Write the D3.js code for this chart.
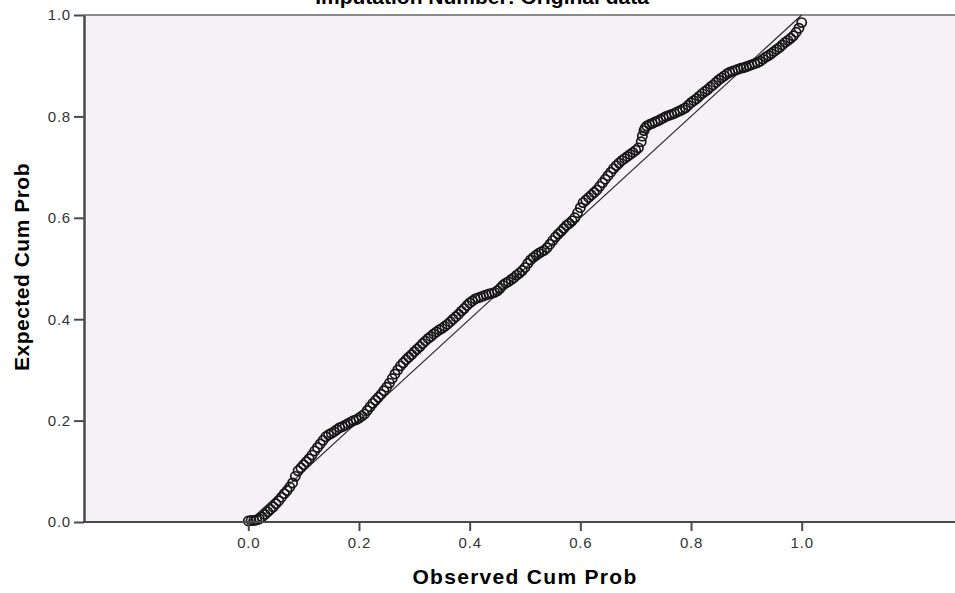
<!DOCTYPE html>
<html>
<head>
<meta charset="utf-8">
<script src="https://cdn.jsdelivr.net/npm/d3@7"></script>
<style>
  body { margin: 0; background: #fff; }
  svg { display: block; font-family: "Liberation Sans", Arial, sans-serif; }
</style>
</head>
<body>
<div id="chart"></div>
<script>
const title = 'Imputation Number: Original data'
const xTitle = 'Observed Cum Prob'
const yTitle = 'Expected Cum Prob'
const xTicks = [0, 0.2, 0.4, 0.6, 0.8, 1.0]
const yTicks = [0, 0.2, 0.4, 0.6, 0.8, 1.0]

const observedCumProb = [
  0.000, 0.005, 0.010, 0.015, 0.020, 0.025, 0.030, 0.035, 0.040, 0.045,
  0.050, 0.055, 0.060, 0.065, 0.070, 0.075, 0.080, 0.085, 0.090, 0.095,
  0.100, 0.105, 0.110, 0.115, 0.120, 0.125, 0.130, 0.135, 0.140, 0.145,
  0.150, 0.155, 0.160, 0.165, 0.170, 0.175, 0.180, 0.185, 0.190, 0.195,
  0.200, 0.205, 0.210, 0.215, 0.220, 0.225, 0.230, 0.235, 0.240, 0.245,
  0.250, 0.255, 0.260, 0.265, 0.270, 0.275, 0.280, 0.285, 0.290, 0.295,
  0.300, 0.305, 0.310, 0.315, 0.320, 0.325, 0.330, 0.335, 0.340, 0.345,
  0.350, 0.355, 0.360, 0.365, 0.370, 0.375, 0.380, 0.385, 0.390, 0.395,
  0.400, 0.405, 0.410, 0.415, 0.420, 0.425, 0.430, 0.435, 0.440, 0.445,
  0.450, 0.455, 0.460, 0.465, 0.470, 0.475, 0.480, 0.485, 0.490, 0.495,
  0.500, 0.505, 0.510, 0.515, 0.520, 0.525, 0.530, 0.535, 0.540, 0.545,
  0.550, 0.555, 0.560, 0.565, 0.570, 0.575, 0.580, 0.585, 0.590, 0.595,
  0.600, 0.605, 0.610, 0.615, 0.620, 0.625, 0.630, 0.635, 0.640, 0.645,
  0.650, 0.655, 0.660, 0.665, 0.670, 0.675, 0.680, 0.685, 0.690, 0.695,
  0.700, 0.705, 0.710, 0.715, 0.720, 0.725, 0.730, 0.735, 0.740, 0.745,
  0.750, 0.755, 0.760, 0.765, 0.770, 0.775, 0.780, 0.785, 0.790, 0.795,
  0.800, 0.805, 0.810, 0.815, 0.820, 0.825, 0.830, 0.835, 0.840, 0.845,
  0.850, 0.855, 0.860, 0.865, 0.870, 0.875, 0.880, 0.885, 0.890, 0.895,
  0.900, 0.905, 0.910, 0.915, 0.920, 0.925, 0.930, 0.935, 0.940, 0.945,
  0.950, 0.955, 0.960, 0.965, 0.970, 0.975, 0.980, 0.985, 0.990, 0.995,
  1.000, 0.712, 0.717
]

const expectedCumProb = [
  0.002, 0.003, 0.003, 0.004, 0.006, 0.010, 0.015, 0.020, 0.025, 0.030,
  0.036, 0.042, 0.049, 0.056, 0.062, 0.069, 0.077, 0.090, 0.101, 0.107,
  0.113, 0.119, 0.125, 0.132, 0.140, 0.147, 0.154, 0.161, 0.168, 0.172,
  0.175, 0.178, 0.182, 0.186, 0.188, 0.191, 0.194, 0.197, 0.200, 0.202,
  0.205, 0.209, 0.213, 0.220, 0.227, 0.234, 0.240, 0.246, 0.252, 0.259,
  0.266, 0.274, 0.283, 0.292, 0.300, 0.308, 0.314, 0.320, 0.325, 0.330,
  0.336, 0.341, 0.346, 0.352, 0.357, 0.362, 0.366, 0.371, 0.375, 0.379,
  0.382, 0.386, 0.390, 0.395, 0.400, 0.405, 0.410, 0.416, 0.421, 0.427,
  0.432, 0.436, 0.440, 0.442, 0.444, 0.446, 0.448, 0.450, 0.451, 0.453,
  0.456, 0.461, 0.467, 0.471, 0.474, 0.478, 0.482, 0.487, 0.491, 0.496,
  0.502, 0.510, 0.517, 0.522, 0.526, 0.530, 0.533, 0.536, 0.541, 0.548,
  0.555, 0.562, 0.568, 0.573, 0.579, 0.585, 0.589, 0.594, 0.600, 0.610,
  0.620, 0.630, 0.635, 0.640, 0.645, 0.650, 0.655, 0.662, 0.669, 0.676,
  0.683, 0.690, 0.697, 0.703, 0.708, 0.713, 0.717, 0.721, 0.725, 0.729,
  0.733, 0.738, 0.750, 0.772, 0.781, 0.784, 0.786, 0.789, 0.791, 0.794,
  0.797, 0.800, 0.802, 0.804, 0.806, 0.809, 0.811, 0.814, 0.817, 0.822,
  0.827, 0.831, 0.835, 0.840, 0.845, 0.849, 0.853, 0.858, 0.862, 0.867,
  0.872, 0.876, 0.880, 0.884, 0.887, 0.889, 0.891, 0.893, 0.895, 0.896,
  0.898, 0.900, 0.902, 0.904, 0.906, 0.909, 0.913, 0.917, 0.920, 0.924,
  0.928, 0.932, 0.936, 0.941, 0.946, 0.950, 0.954, 0.959, 0.966, 0.974,
  0.985, 0.761, 0.777
]

const points = observedCumProb.map((d, i) => ({ obs: d, exp: expectedCumProb[i] }))

const width = 955
const height = 593
const plot = { left: 84, right: 955, top: 15, bottom: 522 }

// 0..1 sits inside a wider frame, like the SPSS output
const x = d3.scaleLinear().domain([0, 1]).range([248.3, 801.7])
const y = d3.scaleLinear().domain([0, 1]).range([plot.bottom, plot.top])

const svg = d3.select('#chart').append('svg')
  .attr('width', width)
  .attr('height', height)

svg.append('rect')
  .attr('x', plot.left)
  .attr('y', plot.top)
  .attr('width', plot.right - plot.left)
  .attr('height', plot.bottom - plot.top)
  .attr('fill', '#f6f1f6')

// top frame line
svg.append('line')
  .attr('x1', plot.left).attr('x2', plot.right)
  .attr('y1', plot.top).attr('y2', plot.top)
  .attr('stroke', '#8a8a8a')
  .attr('stroke-width', 2)

// reference line
svg.append('line')
  .attr('x1', x(0)).attr('y1', y(0))
  .attr('x2', x(1)).attr('y2', y(1))
  .attr('stroke', '#2a2a2a')
  .attr('stroke-width', 1.2)

svg.append('g')
  .selectAll('circle')
  .data(points).enter()
  .append('circle')
  .attr('cx', d => x(d.obs))
  .attr('cy', d => y(d.exp))
  .attr('r', 4.6)
  .attr('fill', 'none')
  .attr('stroke', '#151515')
  .attr('stroke-width', 1.7)

const yAxis = svg.append('g')
  .attr('transform', `translate(${plot.left},0)`)
  .call(d3.axisLeft(y).tickValues(yTicks).tickFormat(d3.format('.1f')).tickSize(10).tickSizeOuter(0).tickPadding(3))

const xAxis = svg.append('g')
  .attr('transform', `translate(0,${plot.bottom})`)
  .call(d3.axisBottom(x).tickValues(xTicks).tickFormat(d3.format('.1f')).tickSize(9).tickSizeOuter(0).tickPadding(6))
xAxis.select('.domain').remove()

svg.append('line')
  .attr('x1', plot.left - 1).attr('x2', plot.right)
  .attr('y1', plot.bottom).attr('y2', plot.bottom)
  .attr('stroke', '#4a4a4a')
  .attr('stroke-width', 2)

svg.selectAll('.tick line').attr('stroke', '#4a4a4a').attr('stroke-width', 2)
yAxis.select('.domain').attr('stroke', '#4a4a4a').attr('stroke-width', 2.5)
svg.selectAll('.tick text')
  .attr('fill', '#333')
  .style('font-size', '15px')
  .style('font-family', '"Liberation Sans", Arial, sans-serif')
  .style('letter-spacing', '0.8px')

svg.append('text')
  .attr('x', 482)
  .attr('y', 4)
  .attr('text-anchor', 'middle')
  .style('font-size', '21px')
  .style('font-weight', 'bold')
  .text(title)

svg.append('text')
  .attr('x', 525)
  .attr('y', 584)
  .attr('text-anchor', 'middle')
  .style('font-size', '21px')
  .style('font-weight', 'bold')
  .style('letter-spacing', '1.3px')
  .text(xTitle)

svg.append('text')
  .attr('transform', 'translate(29,267) rotate(-90)')
  .attr('text-anchor', 'middle')
  .style('font-size', '21px')
  .style('font-weight', 'bold')
  .style('letter-spacing', '0.5px')
  .text(yTitle)
</script>
</body>
</html>
